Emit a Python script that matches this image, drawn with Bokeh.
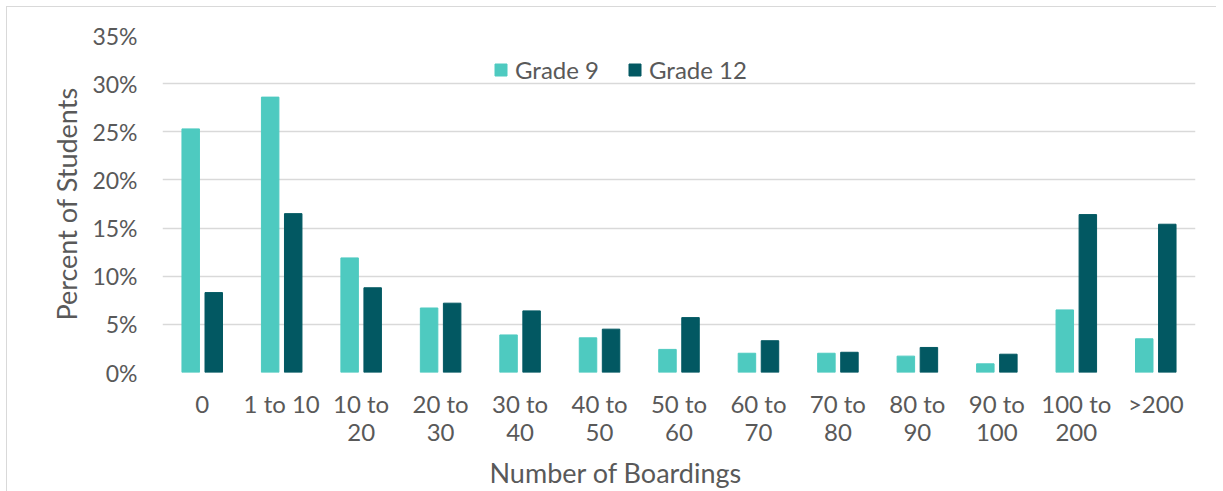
from bokeh.plotting import figure
from bokeh.models import (ColumnDataSource, FixedTicker, PrintfTickFormatter, Legend, LegendItem,
                          FactorRange, Range1d, CategoricalAxis, Title, CustomJSTickFormatter)
from bokeh.transform import dodge
from bokeh.embed import file_html
from bokeh.resources import INLINE

categories = ["0", "1 to 10", "10 to 20", "20 to 30", "30 to 40", "40 to 50", "50 to 60",
              "60 to 70", "70 to 80", "80 to 90", "90 to 100", "100 to 200", ">200"]
tick_line1 = ["0", "1 to 10", "10 to", "20 to", "30 to", "40 to", "50 to",
              "60 to", "70 to", "80 to", "90 to", "100 to", ">200"]
tick_line2 = ["", "", "20", "30", "40", "50", "60", "70", "80", "90", "100", "200", ""]
grade9 = [25.3, 28.6, 11.9, 6.7, 3.9, 3.6, 2.4, 2.0, 2.0, 1.7, 0.9, 6.5, 3.5]
grade12 = [8.3, 16.5, 8.8, 7.2, 6.4, 4.5, 5.7, 3.3, 2.1, 2.6, 1.9, 16.4, 15.4]
y_ticks = [0, 5, 10, 15, 20, 25, 30, 35]

FONT = "Lato"
TXT = "#595959"
C9 = "#4ECAC0"
C12 = "#025862"

src = ColumnDataSource(dict(cat=categories, g9=grade9, g12=grade12))

p = figure(x_range=FactorRange(*categories), y_range=Range1d(0, 35),
           frame_width=1033, frame_height=337, output_backend="svg", toolbar_location=None,
           min_border_left=155, min_border_right=21, min_border_top=28, min_border_bottom=0)
p.styles = {"border-top": "1.5px solid #d9d9d9", "border-left": "1.5px solid #d9d9d9",
            "margin-left": "6px", "margin-top": "6px"}
p.outline_line_color = None
p.background_fill_color = "white"
p.border_fill_color = "white"

r9 = p.vbar(x=dodge("cat", -0.145, range=p.x_range), top="g9", width=0.22, source=src,
            fill_color=C9, line_color=C9)
r12 = p.vbar(x=dodge("cat", 0.145, range=p.x_range), top="g12", width=0.22, source=src,
             fill_color=C12, line_color=C12)

p.xgrid.grid_line_color = None
p.ygrid.grid_line_color = "#d9d9d9"
p.ygrid.grid_line_width = 1.5
p.yaxis.ticker = FixedTicker(ticks=y_ticks)
p.yaxis.formatter = PrintfTickFormatter(format="%d%%")

x2 = CategoricalAxis()
p.add_layout(x2, "below")

def style(ax, size):
    ax.axis_line_color = None
    ax.major_tick_line_color = None
    ax.minor_tick_line_color = None
    ax.major_tick_out = 0
    ax.major_tick_in = 0
    ax.minor_tick_out = 0
    ax.minor_tick_in = 0
    ax.major_label_text_font = FONT
    ax.major_label_text_font_size = size
    ax.major_label_text_color = TXT
    ax.axis_label_text_font = FONT
    ax.axis_label_text_font_size = "27px"
    ax.axis_label_text_color = TXT
    ax.axis_label_text_font_style = "normal"

style(p.yaxis[0], "23px")
style(p.xaxis[0], "24px")
style(x2, "24px")

p.yaxis.major_label_standoff = 25
p.yaxis.axis_label = "Percent of Students"
p.yaxis.axis_label_standoff = 6
p.xaxis[0].major_label_standoff = 16
p.xaxis[0].formatter = CustomJSTickFormatter(args=dict(cats=categories, lab=tick_line1),
                                             code="return lab[cats.indexOf(tick)];")
x2.major_label_standoff = 3
x2.formatter = CustomJSTickFormatter(args=dict(cats=categories, lab=tick_line2),
                                     code="return lab[cats.indexOf(tick)];")

p.add_layout(Title(text="Number of Boardings", align="left", offset=327, text_font=FONT,
                   text_font_size="27px", text_color=TXT, text_font_style="normal",
                   standoff=20), "below")

legend = Legend(items=[LegendItem(label="Grade 9", renderers=[r9]),
                       LegendItem(label="Grade 12", renderers=[r12])],
                orientation="horizontal", location=(331, 288),
                label_text_font=FONT, label_text_font_size="24px", label_text_color=TXT,
                glyph_width=15, glyph_height=15, label_standoff=7, spacing=28,
                padding=0, margin=0, border_line_color=None, background_fill_alpha=0)
p.add_layout(legend)

open("out.html", "w").write(file_html(p, INLINE))
